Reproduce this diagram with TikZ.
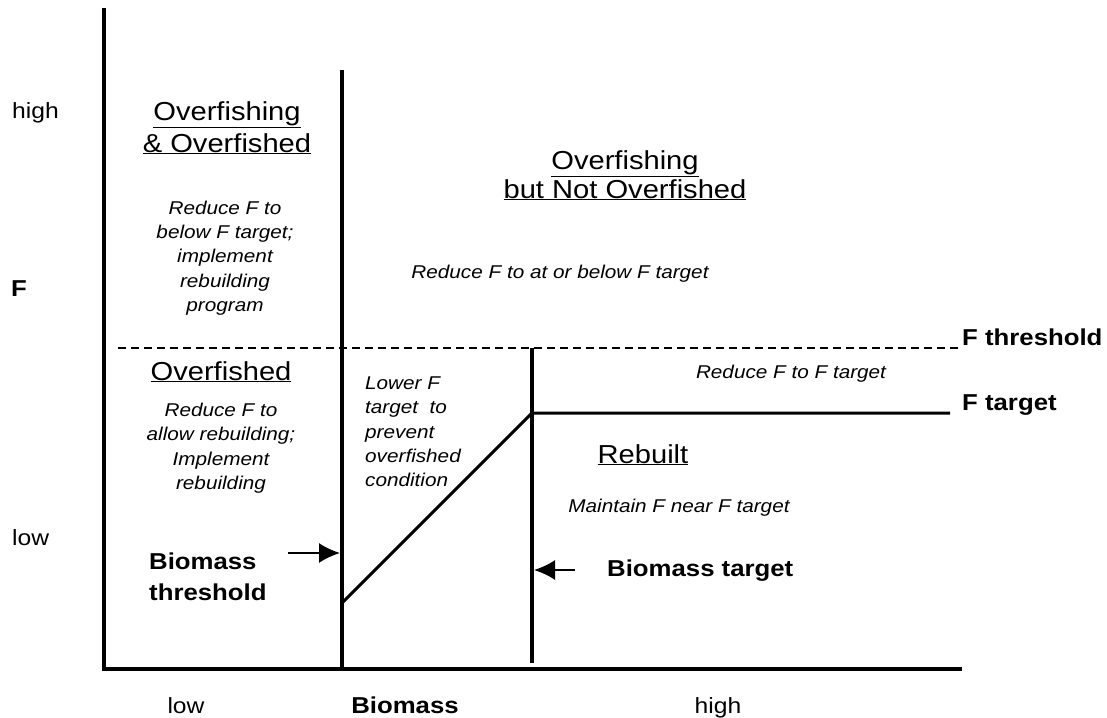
\documentclass[tikz,border=0pt]{standalone}
\usepackage{fontspec}
\setmainfont[FakeStretch=1.12]{Liberation Sans}
\usetikzlibrary{arrows.meta}

\begin{document}
\begin{tikzpicture}[x=1pt, y=-1pt, >={Latex[length=21pt,width=20pt]},
  axis/.style={line width=3.5pt},
  ctrl/.style={line width=3pt},
  pointer/.style={->, line width=2pt},
  head/.style={font=\fontsize{26}{30}\selectfont, inner sep=0pt, anchor=base},
  note/.style={font=\fontsize{18.5}{24.3}\selectfont\itshape, inner sep=0pt, align=center},
  tag/.style={font=\fontsize{23}{31}\selectfont\bfseries, inner sep=0pt},
  lvl/.style={font=\fontsize{22}{26}\selectfont, inner sep=0pt, anchor=base}]

  \useasboundingbox (0,0) rectangle (1107,717);

  % Define coordinates for the frame and control rule
  \coordinate (O) at (104,669);
  \coordinate (Ytop) at (104,8);
  \coordinate (Xend) at (962,669);
  \coordinate (Bth) at (342,70);
  \coordinate (Bthlow) at (342,669);
  \coordinate (Btg) at (532,348);
  \coordinate (Btglow) at (532,663);
  \coordinate (Fth0) at (118,348);
  \coordinate (Fth1) at (960,348);
  \coordinate (Knee) at (532,413);
  \coordinate (Ftg1) at (950,413);
  \coordinate (Foot) at (343,602);
  \coordinate (a1) at (288,553);
  \coordinate (a1tip) at (340,553);
  \coordinate (a2) at (575,570);
  \coordinate (a2tip) at (534,570);

  % Axis labels
  \node[lvl, anchor=base west] (Fhigh) at (12,118) {high};
  \node[lvl, anchor=base west] (Flow) at (12,545) {low};
  \node[tag, anchor=base west] (F) at (11,296) {F};
  \node[lvl] (Blow) at (186,713) {low};
  \node[tag, anchor=base] (B) at (405,713) {Biomass};
  \node[lvl] (Bhigh) at (718,713) {high};

  % Zone labels
  \node[head] (ofof1) at (227,120) {\underline{Overfishing}};
  \node[head] (ofof2) at (227,152) {\underline{\& Overfished}};
  \node[note, anchor=north] (ofofn) at (225,200.5)
    {Reduce F to\\below F target;\\implement\\rebuilding\\program};
  \node[head] (ofn1) at (625,169) {\underline{Overfishing}};
  \node[head] (ofn2) at (625,198) {\underline{but Not Overfished}};
  \node[note, anchor=base] (ofnn) at (560,278) {Reduce F to at or below F target};
  \node[head] (of) at (221,380) {\underline{Overfished}};
  \node[note, anchor=north] (ofn) at (221,403)
    {Reduce F to\\allow rebuilding;\\Implement\\rebuilding};
  \node[note, anchor=north west, align=left] (low) at (365,376.5)
    {Lower F\\target\ \ to\\prevent\\overfished\\condition};
  \node[note, anchor=base] (rt) at (791,378) {Reduce F to F target};
  \node[head] (rb) at (643,463) {\underline{Rebuilt}};
  \node[note, anchor=base] (rbn) at (679,512) {Maintain F near F target};

  % Reference point labels
  \node[tag, anchor=base west] (Fthl) at (962,345) {F threshold};
  \node[tag, anchor=base west] (Ftgl) at (962,410) {F target};
  \node[tag, anchor=north west, align=left] (Bthl) at (149,552.5) {Biomass\\threshold};
  \node[tag, anchor=base west] (Btgl) at (607,576) {Biomass target};

  % Draw the frame and control rule
  \draw[axis] (Ytop) -- (O) -- (Xend);
  \draw[axis] (Bth) -- (Bthlow);
  \draw[axis] (Btg) -- (Btglow);
  \draw[line width=1.3pt, dash pattern=on 8pt off 5pt] (Fth0) -- (Fth1);
  \draw[ctrl] (Foot) -- (Knee) -- (Ftg1);
  \draw[pointer] (a1) -- (a1tip);
  \draw[pointer] (a2) -- (a2tip);
\end{tikzpicture}
\end{document}
